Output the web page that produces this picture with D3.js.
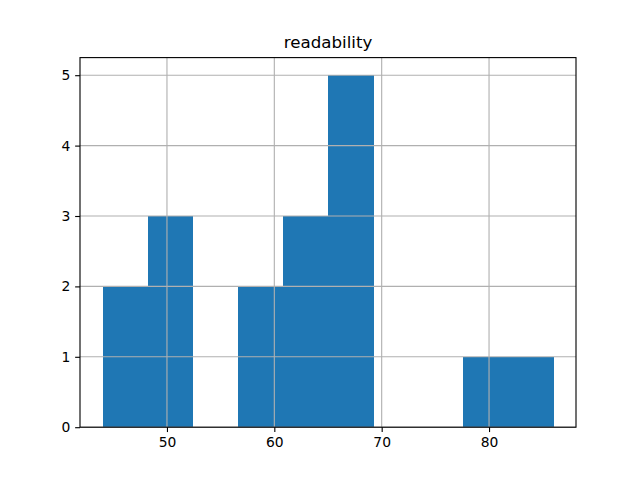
<!DOCTYPE html>
<html><head><meta charset="utf-8">
<script src="https://cdn.jsdelivr.net/npm/d3@7"></script>
<style>body{margin:0;background:#fff}svg{display:block}text{font-family:"DejaVu Sans",sans-serif}</style>
</head><body>
<script>
const title = "readability";
const binEdges = [44.0, 48.2, 52.4, 56.6, 60.8, 65.0, 69.2, 73.4, 77.6, 81.8, 86.0];
const counts = [2, 3, 0, 2, 3, 5, 0, 0, 1, 1];
const xTicks = [50, 60, 70, 80];
const yTicks = [0, 1, 2, 3, 4, 5];

const W = 640, H = 480;
const L = 80, R = 576, T = 57.6, B = 427.2;
const pt = 100 / 72;
const svg = d3.select("body").append("svg").attr("width", W).attr("height", H);

const lo = binEdges[0], hi = binEdges[binEdges.length - 1];
const pad = (hi - lo) * 0.05;
const x = d3.scaleLinear().domain([lo - pad, hi + pad]).range([L, R]);
const y = d3.scaleLinear().domain([0, d3.max(counts) * 1.05]).range([B, T]);

const bins = counts.map((c, i) => ({x0: binEdges[i], x1: binEdges[i + 1], c}));
svg.append("g").attr("shape-rendering", "crispEdges").selectAll("rect").data(bins.filter(d => d.c > 0)).join("rect")
  .attr("x", d => x(d.x0)).attr("width", d => x(d.x1) - x(d.x0) + 0.5)
  .attr("y", d => y(d.c)).attr("height", d => y(0) - y(d.c))
  .attr("fill", "#1f77b4");

// grid on top
const grid = svg.append("g").attr("stroke", "#b0b0b0").attr("stroke-width", 0.8 * pt);
grid.selectAll(".gx").data(xTicks).join("line")
  .attr("x1", d => x(d)).attr("x2", d => x(d)).attr("y1", T).attr("y2", B);
grid.selectAll(".gy").data(yTicks).join("line")
  .attr("y1", d => y(d)).attr("y2", d => y(d)).attr("x1", L).attr("x2", R);

const xAxis = svg.append("g").attr("transform", `translate(0,${B})`)
  .call(d3.axisBottom(x).tickValues(xTicks).tickSize(3.5 * pt).tickPadding(3.5 * pt).tickFormat(d3.format("d")));
const yAxis = svg.append("g").attr("transform", `translate(${L},0)`)
  .call(d3.axisLeft(y).tickValues(yTicks).tickSize(3.5 * pt).tickPadding(3.5 * pt).tickFormat(d3.format("d")));
[xAxis, yAxis].forEach(a => {
  a.select(".domain").remove();
  a.selectAll(".tick line").attr("stroke", "#000").attr("stroke-width", 0.8 * pt);
  a.selectAll("text").attr("font-size", (10 * pt) + "px").attr("font-family", "DejaVu Sans").attr("fill", "#000");
});

svg.append("rect").attr("x", L).attr("y", T).attr("width", R - L).attr("height", B - T)
  .attr("fill", "none").attr("stroke", "#000").attr("stroke-width", 0.8 * pt);

svg.append("text").attr("x", (L + R) / 2).attr("y", T - 6 * pt - 1).attr("text-anchor", "middle")
  .attr("font-size", (12 * pt) + "px").attr("fill", "#000").text(title);
</script>
</body></html>
